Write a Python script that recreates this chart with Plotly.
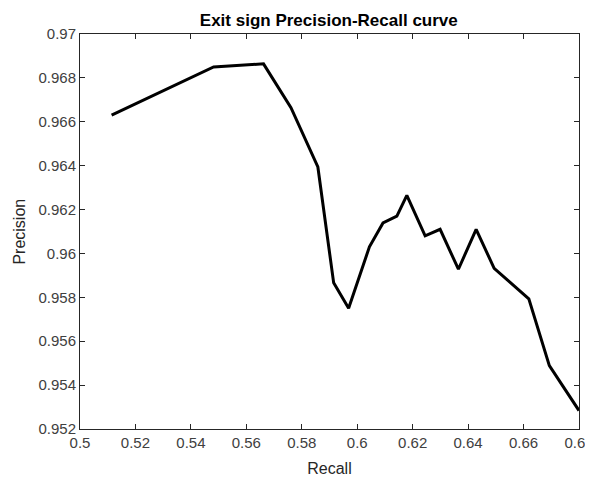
import plotly.graph_objects as go

# Precision-Recall curve points
recall = [0.5114, 0.5482, 0.5662, 0.5761, 0.5858, 0.5915, 0.5969, 0.6044,
          0.6093, 0.6143, 0.6179, 0.6245, 0.6299, 0.6365, 0.6429, 0.6494,
          0.6619, 0.6693, 0.6800]
precision = [0.9663, 0.9685, 0.96864, 0.96664, 0.96394, 0.95866, 0.9575, 0.9603,
             0.96139, 0.9617, 0.96265, 0.9608, 0.9611, 0.95928, 0.9611, 0.95932,
             0.95793, 0.95489, 0.95284]

x_ticks = [0.5, 0.52, 0.54, 0.56, 0.58, 0.6, 0.62, 0.64, 0.66, 0.68]
x_labels = ['0.5', '0.52', '0.54', '0.56', '0.58', '0.6', '0.62', '0.64', '0.66', '0.68']
y_ticks = [0.952, 0.954, 0.956, 0.958, 0.96, 0.962, 0.964, 0.966, 0.968, 0.97]
y_labels = ['0.952', '0.954', '0.956', '0.958', '0.96', '0.962', '0.964', '0.966', '0.968', '0.97']

font_family = 'Liberation Sans, Arial, sans-serif'

fig = go.Figure()
fig.add_trace(go.Scatter(x=recall, y=precision, mode='lines',
                         line=dict(color='black', width=3), showlegend=False))

axis_style = dict(showline=True, linecolor='#262626', linewidth=1, mirror='ticks',
                  ticks='inside', ticklen=5, tickcolor='#262626', showgrid=False,
                  zeroline=False, automargin=False,
                  tickfont=dict(family=font_family, size=15, color='#404040'))

fig.update_xaxes(range=[0.5, 0.68], tickvals=x_ticks, ticktext=x_labels,
                 title=dict(text='Recall',
                            font=dict(family=font_family, size=16, color='#262626')),
                 **axis_style)
fig.update_yaxes(range=[0.952, 0.97], tickvals=y_ticks, ticktext=y_labels, **axis_style)

# y-axis title as an annotation so it sits where the reference has it
fig.add_annotation(text='Precision', textangle=-90, xref='paper', yref='paper',
                   x=-0.122, y=0.5, xanchor='center', yanchor='middle', showarrow=False,
                   font=dict(family=font_family, size=16, color='#262626'))

# page body adds an 8px offset; the extra width past the window keeps the last tick label
fig.update_layout(
    width=593, height=469,
    paper_bgcolor='white', plot_bgcolor='white',
    margin=dict(l=72, r=22, t=26, b=48),
    title=dict(text='<b>Exit sign Precision-Recall curve</b>', x=0.541, xanchor='center',
               y=0.974, yanchor='middle', font=dict(family=font_family, size=17, color='black')),
)

fig.write_html("out.html")
